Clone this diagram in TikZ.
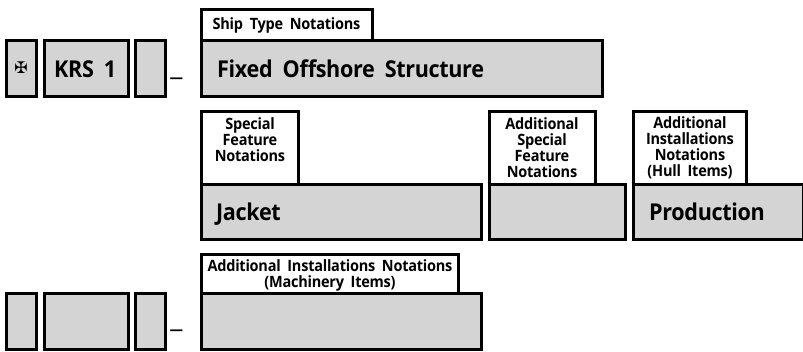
\documentclass[tikz,border=0pt]{standalone}
\usepackage{fontspec}
\setmainfont{Open Sans}[WordSpace=1.9,LetterSpace=-1.5,FakeStretch=0.93]
\newfontfamily\symfont{DejaVu Sans}
\newfontfamily\dashfont{Open Sans}
\definecolor{boxgray}{HTML}{D4D4D4}
\tikzset{
  notebox/.style={draw=black,line width=3pt,fill=white,inner sep=0pt},
  bigtext/.style={anchor=base west,inner sep=0pt,font=\fontsize{23.2}{23.2}\selectfont\bfseries},
  smalltext/.style={inner sep=0pt,align=center,font=\fontsize{15.6}{16}\selectfont\bfseries},
  dashtext/.style={inner sep=0pt,font=\dashfont\fontsize{27}{27}\selectfont}
}
\begin{document}
\begin{tikzpicture}[x=1pt,y=-1pt]
\useasboundingbox (0,0) rectangle (803,351);
% notation boxes
\draw[notebox] (201.5,40) |- (372,9.5) -- (372,40);
\draw[notebox] (201.5,184) |- (298,111.5) -- (298,184);
\draw[notebox] (489,184) |- (595.5,111.5) -- (595.5,184);
\draw[notebox] (633,184) |- (746.5,111.5) -- (746.5,184);
\draw[notebox] (201.5,293) |- (458.5,254.5) -- (458.5,293);
% grey boxes
\foreach \n/\xa/\ya/\xb/\yb in {
  a/6.5/40/36.5/96, b/44.5/40/128.5/96, c/135.5/40/165.5/96,
  d/201.5/40/602.5/96, e/201.5/184/481.5/239, f/489/184/625.5/239, g/633/184/803/239,
  h/6.5/293/36.5/349, i/44.5/293/128.5/349, j/135.5/293/165.5/349, k/201.5/293/481.5/349}{
  \node[draw=black,line width=3pt,fill=boxgray,rectangle,inner sep=0pt,outer sep=0pt,anchor=north west,
        minimum width={(\xb-\xa)*1pt},minimum height={(\yb-\ya)*1pt}] (box\n) at (\xa,\ya) {};
}
% labels
\node[inner sep=0pt,font=\symfont\fontsize{16}{16}\selectfont] (cross) at (21,68) {✠};
\node[bigtext] (krs) at (54,77) {KRS 1};
\node[bigtext] (fixed) at (217,77) {Fixed Offshore Structure};
\node[bigtext] (jacket) at (216,220) {Jacket};
\node[bigtext] (prod) at (649,220) {Production};
\node[smalltext] (ship) at (286.5,25) {Ship Type Notations};
\node[smalltext] (spec) at (250,140) {Special\\Feature\\Notations};
\node[smalltext] (addspec) at (542,148) {Additional\\Special\\Feature\\Notations};
\node[smalltext] (addinst) at (690,148) {Additional\\Installations\\Notations\\(Hull Items)};
\node[smalltext] (mach) at (330,275) {Additional Installations Notations\\(Machinery Items)};
\node[dashtext] (dasha) at (176.5,78) {\_};
\node[dashtext] (dashb) at (176.5,330) {\_};
\end{tikzpicture}
\end{document}
